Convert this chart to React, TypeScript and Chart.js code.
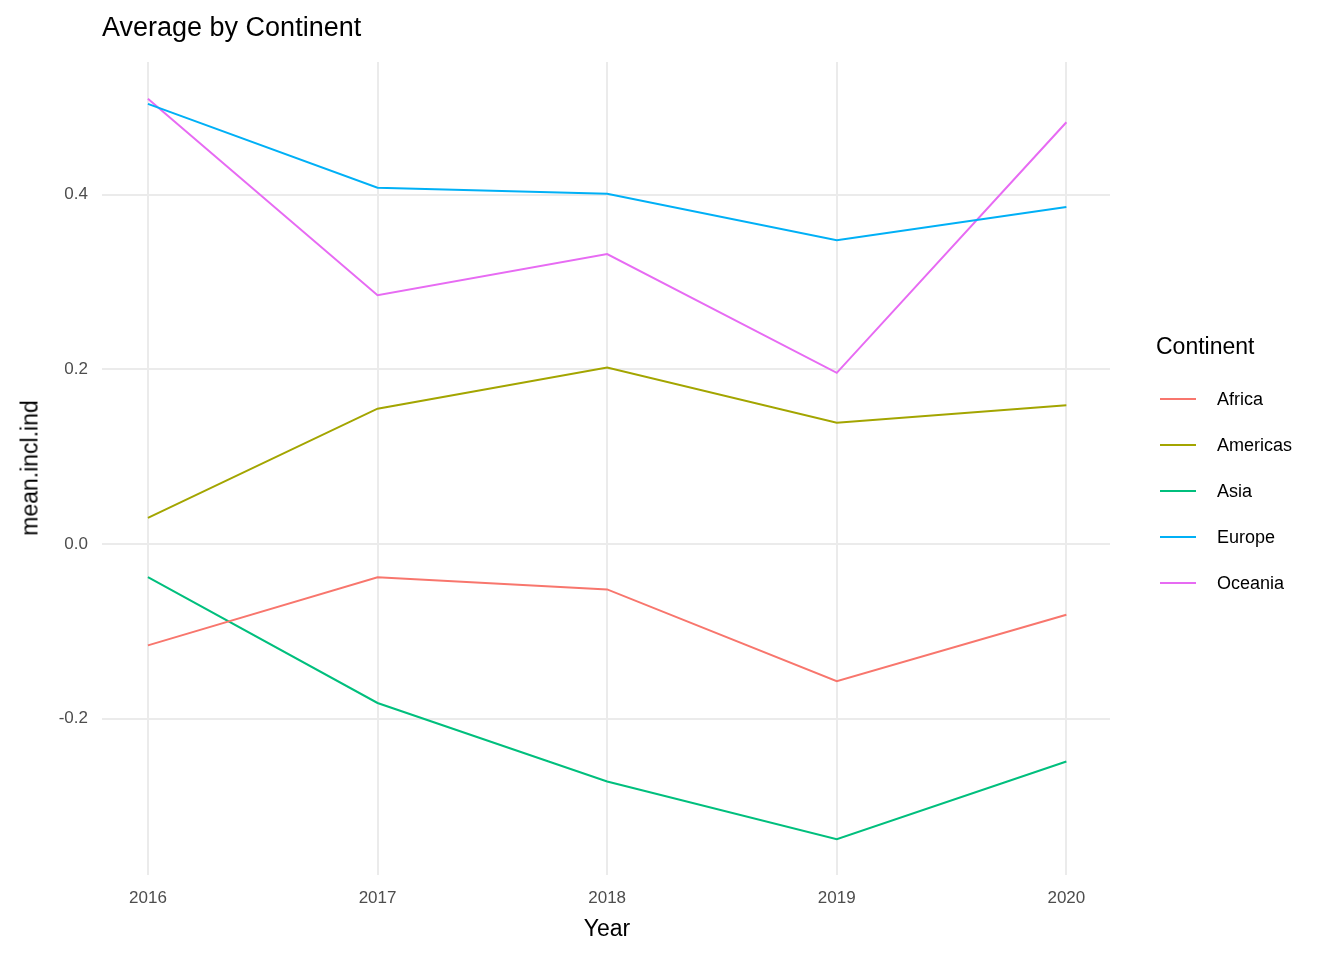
import {useEffect, useRef} from 'react'
import {Chart, registerables} from 'chart.js'

Chart.register(...registerables);

const years = [2016, 2017, 2018, 2019, 2020];
const continents = ["Africa", "Americas", "Asia", "Europe", "Oceania"];
const colors = ["#F8766D", "#A3A500", "#00BF7D", "#00B0F6", "#E76BF3"];
const africa = [-0.116, -0.038, -0.052, -0.157, -0.081];
const americas = [0.030, 0.155, 0.202, 0.139, 0.159];
const asia = [-0.038, -0.182, -0.272, -0.338, -0.249];
const europe = [0.504, 0.408, 0.401, 0.348, 0.386];
const oceania = [0.510, 0.285, 0.332, 0.196, 0.483];
const yTicks = [-0.2, 0, 0.2, 0.4];

const series = [africa, americas, asia, europe, oceania];
const FONT = "'Liberation Sans', Arial, sans-serif";

const App: React.FC = () => {
    const canvasRef = useRef<HTMLCanvasElement>(null);
    const chartRef = useRef<Chart | null>(null);

    useEffect(() => {
        if (!canvasRef.current) return;
        chartRef.current?.destroy();
        chartRef.current = new Chart(canvasRef.current, {
            type: "line",
            data: {
                datasets: continents.map((c, i) => ({
                    label: c,
                    data: years.map((y, j) => ({x: y, y: series[i][j]})),
                    borderColor: colors[i],
                    borderWidth: 2,
                    pointRadius: 0,
                    tension: 0,
                })),
            },
            options: {
                responsive: false,
                animation: false,
                layout: {padding: {left: 0, top: 62, right: 234, bottom: 0}},
                plugins: {legend: {display: false}, tooltip: {enabled: false}},
                scales: {
                    x: {
                        type: "linear",
                        min: 2015.8,
                        max: 2020.19,
                        border: {display: false},
                        grid: {color: "#ebebeb", lineWidth: 2, drawTicks: false},
                        afterBuildTicks: (s: any) => { s.ticks = years.map(v => ({value: v})); },
                        afterFit: (s: any) => { s.height = 85; },
                        ticks: {padding: 13, color: "#4d4d4d", font: {family: FONT, size: 17},
                            callback: (v: any) => String(v)},
                    },
                    y: {
                        min: -0.379,
                        max: 0.552,
                        border: {display: false},
                        grid: {color: "#ebebeb", lineWidth: 2, drawTicks: false},
                        afterBuildTicks: (s: any) => { s.ticks = yTicks.map(v => ({value: v})); },
                        afterFit: (s: any) => { s.width = 102; },
                        ticks: {padding: 14, color: "#4d4d4d", font: {family: FONT, size: 17},
                            callback: (v: any) => Number(v).toFixed(1)},
                    },
                },
            },
        });
        return () => { chartRef.current?.destroy(); };
    }, []);

    return (
        <div style={{position: "fixed", left: 0, top: 0, width: 1344, height: 960, background: "#fff", fontFamily: FONT}}>
            <canvas ref={canvasRef} width={1344} height={960} style={{position: "absolute", left: 0, top: 0}}/>
            <div style={{position: "absolute", left: 102, top: 12, fontSize: 27}}>Average by Continent</div>
            <div style={{position: "absolute", left: 0, width: 1214, textAlign: "center", top: 915, fontSize: 23}}>Year</div>
            <div style={{position: "absolute", left: 30, top: 468, fontSize: 23, transform: "translate(-50%, -50%) rotate(-90deg)", whiteSpace: "nowrap"}}>mean.incl.ind</div>
            <div style={{position: "absolute", left: 1156, top: 333, fontSize: 23}}>Continent</div>
            {continents.map((c, i) => (
                <div key={c} style={{position: "absolute", left: 1160, top: 388 + i * 46, height: 22, display: "flex", alignItems: "center"}}>
                    <div style={{width: 36, height: 2, background: colors[i]}}/>
                    <span style={{marginLeft: 21, fontSize: 18}}>{c}</span>
                </div>
            ))}
        </div>
    );
};

export default App;
